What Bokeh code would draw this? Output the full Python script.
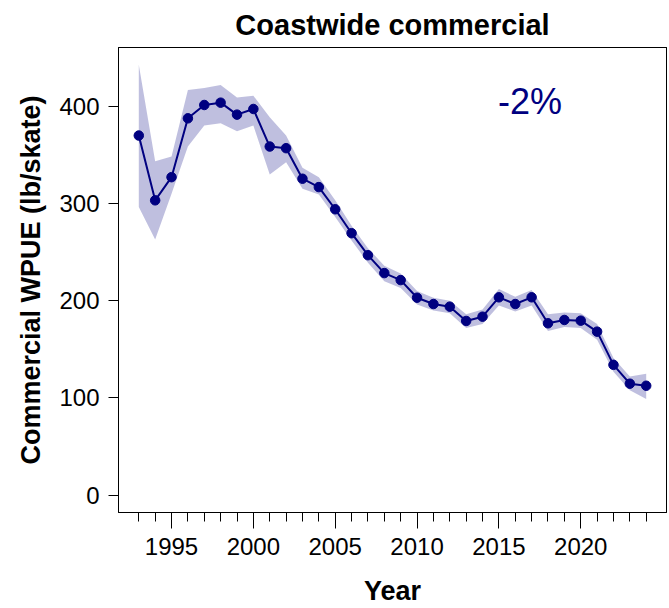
from bokeh.plotting import figure
from bokeh.models import Range1d, FixedTicker, Label, LinearAxis, Title
from bokeh.embed import file_html
from bokeh.resources import INLINE

years = list(range(1993, 2025))
wpue = [369.8, 303.2, 327.0, 387.5, 401.2, 403.6, 391.3, 397.1, 358.5, 356.8,
        325.4, 316.8, 294.0, 269.4, 246.8, 228.4, 221.2, 203.1, 196.6, 193.9,
        179.2, 183.6, 203.5, 196.6, 203.5, 176.8, 180.2, 179.5, 168.2, 134.1,
        114.7, 112.6]
lower = [296.3, 262.9, 310.0, 358.5, 380.0, 382.4, 374.2, 380.0, 329.8, 342.4,
         315.2, 309.3, 286.0, 262.0, 239.0, 220.0, 213.0, 196.0, 190.0, 187.0,
         172.0, 176.0, 195.0, 189.0, 195.0, 169.0, 173.0, 172.0, 160.0, 127.0,
         108.0, 99.0]
upper = [442.6, 343.4, 348.3, 416.6, 418.6, 421.7, 409.0, 410.8, 388.5, 369.8,
         336.7, 327.0, 303.2, 277.0, 254.0, 236.0, 228.0, 210.0, 203.0, 200.0,
         186.0, 191.0, 212.0, 204.0, 211.0, 186.0, 188.0, 187.0, 176.0, 141.0,
         122.0, 125.0]
y_ticks = [0, 100, 200, 300, 400]
x_ticks = [1995, 2000, 2005, 2010, 2015, 2020]
title_text = "Coastwide commercial"
change_text = "-2%"

NAVY = "#000080"
FONT = "Liberation Sans"

ymax = max(upper)
xpad = (years[-1] - years[0]) * 0.04
x0, x1 = years[0] - xpad, years[-1] + xpad
y0, y1 = -0.04 * ymax, ymax * 1.04
p = figure(width=669, height=608, output_backend="svg", toolbar_location=None,
           x_range=Range1d(x0, x1), y_range=Range1d(y0, y1), title=None,
           min_border_left=118, min_border_right=3, min_border_top=47,
           min_border_bottom=94)

p.outline_line_color = "black"
p.outline_line_width = 1
p.xgrid.visible = False
p.ygrid.visible = False
p.background_fill_color = "white"
p.border_fill_color = "white"

p.varea(x=years, y1=lower, y2=upper, fill_color=NAVY, fill_alpha=0.25)
p.line(years, wpue, line_color=NAVY, line_width=2)
p.scatter(years, wpue, size=9.5, fill_color=NAVY, line_color=NAVY)

p.add_layout(Label(x=2016.9, y=405, text=change_text, text_align="center",
                   text_baseline="middle", text_font=FONT,
                   text_font_size="36px", text_color=NAVY))

xa = p.xaxis[0]
xa.ticker = FixedTicker(ticks=x_ticks, minor_ticks=years)
xa.axis_line_color = "black"
xa.axis_line_width = 1
xa.major_tick_out = 16
xa.major_tick_in = 0
xa.minor_tick_out = 9
xa.minor_tick_in = 0
xa.major_tick_line_color = "black"
xa.minor_tick_line_color = "black"
xa.major_label_text_font = FONT
xa.major_label_text_font_size = "24px"
xa.major_label_text_color = "black"
xa.major_label_standoff = 9
xa.axis_label = "Year"
xa.axis_label_text_font = FONT
xa.axis_label_text_font_size = "27px"
xa.axis_label_text_font_style = "bold"
xa.axis_label_text_color = "black"
xa.axis_label_standoff = 18

ya = p.yaxis[0]
ya.ticker = FixedTicker(ticks=y_ticks, minor_ticks=[])
ya.axis_line_color = "black"
ya.axis_line_width = 1
ya.major_tick_out = 10
ya.major_tick_in = 0
ya.minor_tick_out = 0
ya.minor_tick_in = 0
ya.major_tick_line_color = "black"
ya.major_label_text_font = FONT
ya.major_label_text_font_size = "24px"
ya.major_label_text_color = "black"
ya.major_label_standoff = 9
ya.axis_label = "Commercial WPUE (lb/skate)"
ya.axis_label_text_font = FONT
ya.axis_label_text_font_size = "27px"
ya.axis_label_text_font_style = "bold"
ya.axis_label_text_color = "black"
ya.axis_label_standoff = 10

for side in ("above", "right"):
    ax = LinearAxis(ticker=FixedTicker(ticks=[], minor_ticks=[]),
                    axis_line_color="black", axis_line_width=1,
                    major_tick_out=0, major_tick_in=0,
                    minor_tick_out=0, minor_tick_in=0,
                    major_label_standoff=0, axis_label_standoff=0,
                    major_label_text_font_size="0px")
    p.add_layout(ax, side)

p.add_layout(Title(text=title_text, align="center", text_font=FONT,
                   text_font_size="29px", text_font_style="bold",
                   text_color="black", standoff=13), "above")

open("out.html", "w").write(file_html(p, INLINE))
